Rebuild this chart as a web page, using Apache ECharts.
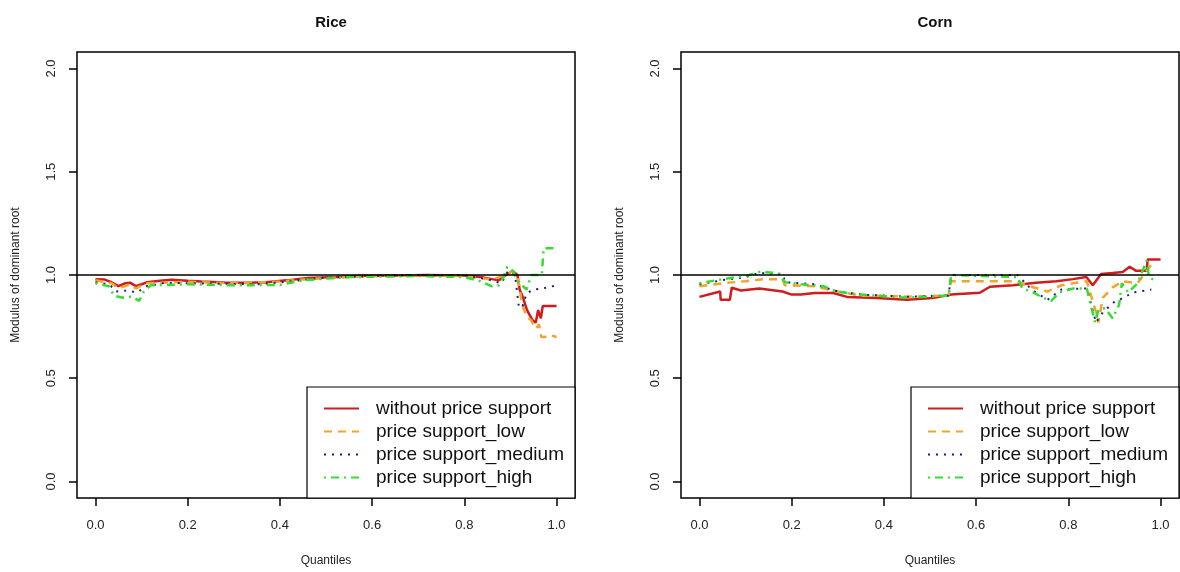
<!DOCTYPE html>
<html>
<head>
<meta charset="utf-8">
<title>Rice / Corn</title>
<script src="https://cdn.jsdelivr.net/npm/echarts@6/dist/echarts.min.js"></script>
<style>
    html, body { margin: 0; padding: 0; background: #fff; }
    #main { width: 1180px; height: 572px; }
</style>
</head>
<body>
<div id="main"></div>
<script>
var seriesNames = ["without price support", "price support_low", "price support_medium", "price support_high"];
var xTicks = [0, 0.2, 0.4, 0.6, 0.8, 1.0];
var yTicks = [0, 0.5, 1.0, 1.5, 2.0];
var panelTitles = ["Rice", "Corn"];

// Rice: [quantile, modulus]
var riceWithout = [[0,0.98],[0.02,0.978],[0.035,0.965],[0.05,0.946],[0.065,0.96],[0.075,0.963],[0.088,0.946],[0.1,0.955],[0.112,0.965],[0.14,0.972],[0.165,0.977],[0.2,0.972],[0.23,0.968],[0.28,0.964],[0.33,0.962],[0.37,0.965],[0.415,0.974],[0.46,0.985],[0.52,0.99],[0.575,0.996],[0.65,0.998],[0.72,1.0],[0.8,0.998],[0.835,0.99],[0.86,0.98],[0.875,0.975],[0.89,1.0],[0.905,1.02],[0.915,1.0],[0.92,0.93],[0.926,0.897],[0.936,0.83],[0.948,0.78],[0.955,0.77],[0.96,0.83],[0.966,0.79],[0.97,0.85],[1.0,0.85]];
var riceLow = [[0,0.975],[0.035,0.96],[0.05,0.935],[0.075,0.955],[0.088,0.935],[0.11,0.96],[0.2,0.967],[0.3,0.96],[0.4,0.968],[0.46,0.98],[0.575,0.993],[0.7,0.998],[0.8,0.995],[0.86,0.978],[0.89,1.0],[0.905,1.02],[0.916,0.99],[0.925,0.86],[0.935,0.8],[0.945,0.78],[0.955,0.74],[0.962,0.76],[0.967,0.7],[0.975,0.7],[0.985,0.71],[1.0,0.7]];
var riceMedium = [[0,0.965],[0.03,0.955],[0.045,0.92],[0.07,0.925],[0.09,0.915],[0.11,0.945],[0.15,0.962],[0.25,0.958],[0.35,0.955],[0.42,0.968],[0.48,0.985],[0.6,0.995],[0.7,1.0],[0.8,0.998],[0.85,0.98],[0.88,0.96],[0.895,1.02],[0.91,1.0],[0.918,0.85],[0.925,0.84],[0.935,0.91],[0.95,0.93],[0.97,0.935],[1.0,0.95]];
var riceHigh = [[0,0.96],[0.03,0.945],[0.04,0.9],[0.06,0.89],[0.08,0.895],[0.095,0.875],[0.105,0.92],[0.12,0.95],[0.2,0.955],[0.3,0.95],[0.4,0.952],[0.45,0.975],[0.55,0.99],[0.7,0.995],[0.8,0.99],[0.835,0.97],[0.86,0.945],[0.875,0.95],[0.885,0.99],[0.893,1.04],[0.905,1.02],[0.915,0.97],[0.925,0.95],[0.935,0.93],[0.945,1.0],[0.968,1.0],[0.972,1.13],[1.0,1.13]];

// Corn: [quantile, modulus]
var cornWithout = [[0,0.894],[0.045,0.92],[0.046,0.88],[0.066,0.88],[0.07,0.938],[0.09,0.925],[0.13,0.935],[0.18,0.92],[0.2,0.905],[0.22,0.905],[0.25,0.913],[0.29,0.913],[0.32,0.894],[0.384,0.889],[0.45,0.88],[0.506,0.889],[0.546,0.906],[0.608,0.914],[0.63,0.943],[0.68,0.95],[0.73,0.962],[0.774,0.97],[0.81,0.98],[0.839,0.99],[0.853,0.95],[0.871,1.005],[0.896,1.01],[0.918,1.015],[0.933,1.04],[0.947,1.02],[0.97,1.02],[0.972,1.075],[1.0,1.075]];
var cornLow = [[0,0.945],[0.05,0.96],[0.1,0.97],[0.14,0.98],[0.18,0.98],[0.185,0.95],[0.25,0.945],[0.3,0.92],[0.35,0.9],[0.4,0.9],[0.45,0.895],[0.54,0.9],[0.546,0.97],[0.69,0.97],[0.71,0.95],[0.755,0.92],[0.785,0.95],[0.81,0.96],[0.84,0.97],[0.86,0.82],[0.865,0.77],[0.875,0.89],[0.896,0.94],[0.918,0.97],[0.95,0.96],[0.98,1.05]];
var cornMedium = [[0,0.955],[0.05,0.975],[0.1,0.99],[0.13,1.01],[0.18,1.005],[0.186,0.965],[0.25,0.955],[0.3,0.92],[0.35,0.905],[0.45,0.895],[0.54,0.9],[0.546,1.0],[0.69,1.0],[0.72,0.93],[0.755,0.88],[0.785,0.93],[0.84,0.935],[0.86,0.77],[0.875,0.82],[0.9,0.87],[0.92,0.89],[0.94,0.915],[0.98,0.93]];
var cornHigh = [[0,0.96],[0.05,0.98],[0.1,0.995],[0.13,1.015],[0.17,1.01],[0.186,0.965],[0.22,0.955],[0.27,0.945],[0.297,0.92],[0.35,0.905],[0.45,0.89],[0.54,0.9],[0.546,1.0],[0.69,0.99],[0.7,0.935],[0.72,0.92],[0.745,0.89],[0.763,0.875],[0.78,0.915],[0.81,0.935],[0.84,0.935],[0.858,0.77],[0.865,0.83],[0.88,0.84],[0.896,0.79],[0.91,0.855],[0.916,0.96],[0.93,0.915],[0.95,0.96],[0.97,1.07],[0.975,0.99],[0.99,0.97]];

var panelData = [
    [riceWithout, riceLow, riceMedium, riceHigh],
    [cornWithout, cornLow, cornMedium, cornHigh]
];

var lineColors = ['#d01c1c', '#f2a52c', '#1a1a8c', '#33dd33'];
var lineTypes = ['solid', [8, 6], [2, 6], [2, 5, 8, 5]];
var lineWidths = [2.5, 2.5, 2, 2.5];
var font = 'Liberation Sans, Arial, sans-serif';

var grids = [
    {left: 77, top: 52, width: 498, height: 446},
    {left: 681, top: 52, width: 498, height: 446}
];

function buildOption() {
    var option = {
        animation: false,
        backgroundColor: '#fff',
        textStyle: {fontFamily: font},
        title: [],
        grid: [],
        xAxis: [],
        yAxis: [],
        legend: [],
        graphic: [],
        series: []
    };
    for (var p = 0; p < 2; p++) {
        var g = grids[p];
        option.grid.push({
            left: g.left, top: g.top, width: g.width, height: g.height,
            show: true, borderColor: '#000', borderWidth: 1.5, backgroundColor: 'transparent'
        });
        option.title.push({
            text: panelTitles[p],
            left: g.left + g.width / 2, top: 10, textAlign: 'center',
            textStyle: {fontSize: 15, fontWeight: 'bold', color: '#111', fontFamily: font}
        });
        option.xAxis.push({
            type: 'value', gridIndex: p, min: -0.04, max: 1.04,
            name: 'Quantiles', nameLocation: 'middle', nameGap: 57,
            nameTextStyle: {fontSize: 12, color: '#222', fontFamily: font},
            axisLine: {show: false, onZero: false},
            axisTick: {show: true, inside: false, customValues: xTicks, length: 8, lineStyle: {color: '#000', width: 1.5}},
            axisLabel: {customValues: xTicks, margin: 21, fontSize: 13, color: '#222', fontFamily: font,
                formatter: function (v) { return v.toFixed(1); }},
            splitLine: {show: false}
        });
        option.yAxis.push({
            type: 'value', gridIndex: p, min: -0.08, max: 2.08,
            name: 'Modulus of dominant root', nameLocation: 'middle', nameGap: 55, nameRotate: 90,
            nameTextStyle: {fontSize: 12, color: '#222', fontFamily: font},
            axisLine: {show: false, onZero: false},
            axisTick: {show: true, inside: false, customValues: yTicks, length: 8, lineStyle: {color: '#000', width: 1.5}},
            axisLabel: {customValues: yTicks, rotate: 90, margin: 19, fontSize: 13, color: '#222', fontFamily: font,
                formatter: function (v) { return v.toFixed(1); }},
            splitLine: {show: false}
        });
        // legend box
        var boxLeft = g.left + g.width - 268;
        option.graphic.push({
            type: 'rect', z: 10,
            shape: {x: boxLeft, y: 387, width: 268, height: g.top + g.height - 387},
            style: {fill: '#fff', stroke: '#000', lineWidth: 1.2}
        });
        option.legend.push({
            orient: 'vertical', left: boxLeft + 16, top: 397, z: 11,
            padding: 0, itemGap: 0, itemWidth: 35, itemHeight: 23,
            data: seriesNames,
            itemStyle: {color: 'transparent', borderWidth: 0, opacity: 0},
            textStyle: {fontSize: 19, color: '#111', lineHeight: 23, padding: [0, 0, 0, 12], fontFamily: font}
        });
        for (var s = 0; s < 4; s++) {
            var ser = {
                name: seriesNames[s], type: 'line', xAxisIndex: p, yAxisIndex: p,
                data: panelData[p][s], symbol: 'none', silent: true,
                lineStyle: {color: lineColors[s], width: lineWidths[s], type: lineTypes[s]},
                itemStyle: {color: lineColors[s]}
            };
            if (s === 0) {
                ser.markLine = {
                    silent: true, symbol: 'none', label: {show: false},
                    lineStyle: {color: '#000', type: 'solid', width: 1.5},
                    data: [{yAxis: 1}]
                };
            }
            option.series.push(ser);
        }
    }
    return option;
}

var chart = echarts.init(document.getElementById('main'));
chart.setOption(buildOption());
</script>
</body>
</html>
